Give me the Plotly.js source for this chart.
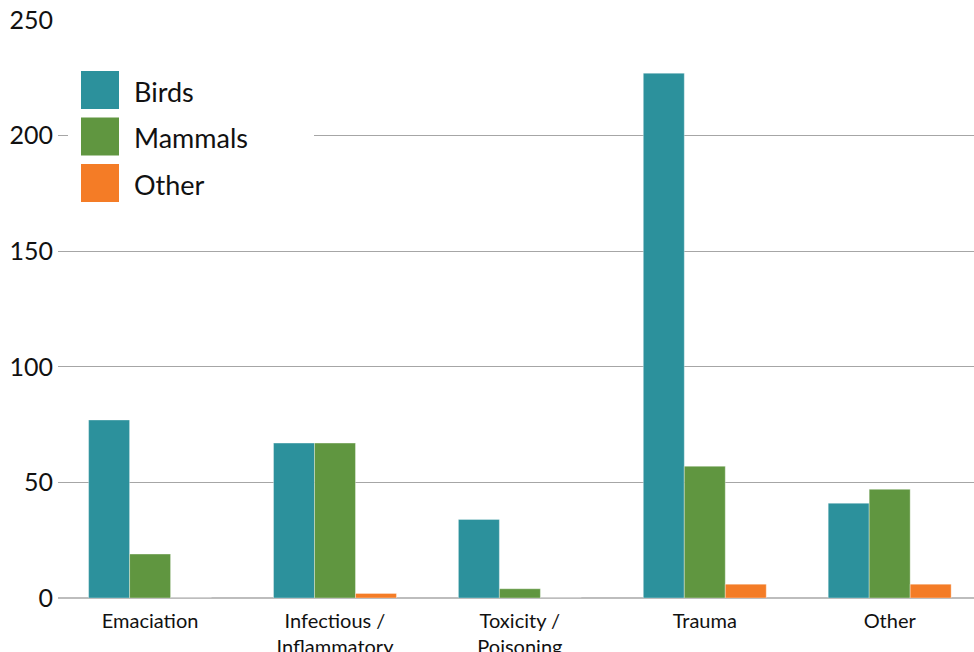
<!DOCTYPE html>
<html>
<head>
<meta charset="utf-8">
<script src="https://cdn.plot.ly/plotly-3.0.1.min.js"></script>
<style>html,body{margin:0;padding:0;background:#fff;}#chart{width:974px;height:652px;}</style>
</head>
<body>
<div id="chart"></div>
<script>
const categories = ["Emaciation", "Infectious /<br>Inflammatory", "Toxicity /<br>Poisoning", "Trauma", "Other"];
const seriesNames = ["Birds", "Mammals", "Other"];
const birds = [77, 67, 34, 227, 41];
const mammals = [19, 67, 4, 57, 47];
const other = [0, 2, 0, 6, 6];
const yTicks = [0, 50, 100, 150, 200, 250];
const colors = ["#2C919C", "#609640", "#F47C26"];

const W = 974, H = 652;
const M = {l: 58, r: 0, t: 20, b: 54};
const pw = W - M.l - M.r, ph = H - M.t - M.b;
const px = x => (x - M.l) / pw;
const py = y => 1 - (y - M.t) / ph;

const seriesVals = [birds, mammals, other];
const traces = seriesVals.map((v, i) => ({
  type: "bar",
  name: seriesNames[i],
  x: categories,
  y: v,
  marker: {color: colors[i], line: {color: "rgba(255,255,255,0.35)", width: 1}},
  hoverinfo: "x+y+name",
  showlegend: false
}));

const font = "Lato, 'Noto Sans', sans-serif";
const shapes = [{
  type: "rect", xref: "paper", yref: "paper", layer: "above",
  x0: px(68), x1: px(314), y0: py(60), y1: py(212),
  fillcolor: "#ffffff", line: {width: 0}
}];
const annotations = [];
seriesNames.forEach((n, i) => {
  const top = 71 + i * 46.5;
  shapes.push({
    type: "rect", xref: "paper", yref: "paper", layer: "above",
    x0: px(81), x1: px(119), y0: py(top + 38), y1: py(top),
    fillcolor: colors[i], line: {width: 0}
  });
  annotations.push({
    xref: "paper", yref: "paper", x: px(132), y: py(top + 20),
    xanchor: "left", yanchor: "middle", showarrow: false,
    text: n, font: {family: font, size: 27, color: "#111"}
  });
});

const layout = {
  width: W, height: H,
  margin: M,
  paper_bgcolor: "#fff", plot_bgcolor: "#fff",
  barmode: "group", bargap: 0.335, bargroupgap: 0,
  showlegend: false,
  xaxis: {
    type: "category", range: [-0.498, 4.456],
    showgrid: false, zeroline: false, showline: false, ticks: "",
    ticklabelstandoff: 9,
    tickfont: {family: font, size: 20, color: "#111"},
    fixedrange: true
  },
  yaxis: {
    range: [0, 250], tickvals: yTicks, ticktext: yTicks.map(String),
    showgrid: true, gridcolor: "#a6a6a6", gridwidth: 1,
    zeroline: true, zerolinecolor: "#bdbdbd", zerolinewidth: 2,
    showline: false, ticks: "",
    ticklabelstandoff: 4,
    tickfont: {family: font, size: 25, color: "#111"},
    fixedrange: true
  },
  shapes: shapes,
  annotations: annotations
};

Plotly.newPlot("chart", traces, layout, {displayModeBar: false, staticPlot: true});
</script>
</body>
</html>
